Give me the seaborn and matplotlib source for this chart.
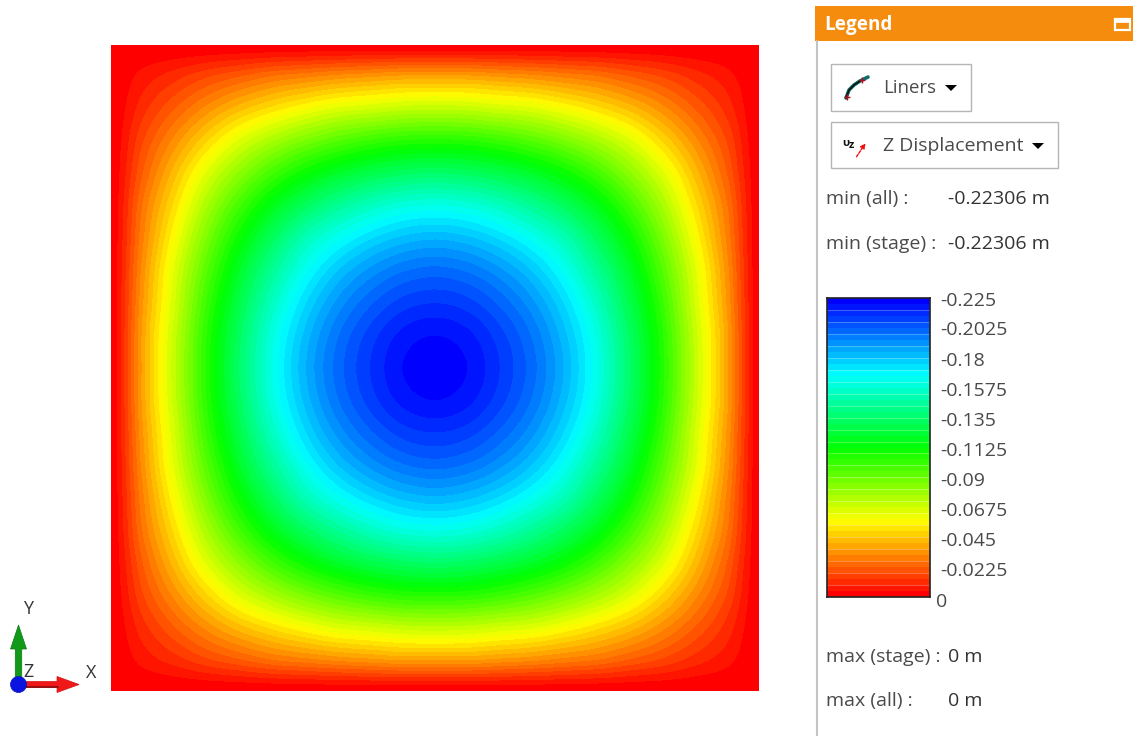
import numpy as np
import pandas as pd
import matplotlib
matplotlib.use("Agg")
import matplotlib.pyplot as plt
from matplotlib.colors import LinearSegmentedColormap, BoundaryNorm
from matplotlib.patches import Rectangle, FancyArrow, Circle
import seaborn as sns

# Quarter of the plate, centre -> edge (in millimetres)
z_quarter_mm = [
    [223, 220.5, 211.5, 200, 184, 163, 136, 106, 72, 38, 0],
    [220.5, 217.5, 209, 197.5, 181.5, 161, 134, 105, 71, 38, 0],
    [211.5, 209, 201.5, 190.5, 175, 154.5, 129, 101, 68, 36, 0],
    [200, 197.5, 190.5, 180, 165, 145, 122, 95, 65, 34, 0],
    [184, 181.5, 175, 165, 152, 133, 112, 87, 59, 31, 0],
    [163, 161, 154.5, 145, 133, 118, 99, 77, 52, 28, 0],
    [136, 134, 129, 122, 112, 99, 83, 65, 44, 23, 0],
    [106, 105, 101, 95, 87, 77, 65, 50, 34, 18, 0],
    [72, 71, 68, 65, 59, 52, 44, 34, 23, 12, 0],
    [38, 38, 36, 34, 31, 28, 23, 18, 12, 6.5, 0],
    [0, 0, 0, 0, 0, 0, 0, 0, 0, 0, 0],
]
legend_ticks = ["-0.225", "-0.2025", "-0.18", "-0.1575", "-0.135", "-0.1125",
                "-0.09", "-0.0675", "-0.045", "-0.0225", "0"]
legend_min = -0.225
legend_max = 0.0
n_bands = 50
info_rows = [("min (all) :", "-0.22306 m"), ("min (stage) :", "-0.22306 m"),
             ("max (stage) :", "0 m"), ("max (all) :", "0 m")]
rainbow = ["#0000ff", "#00ffff", "#00ff00", "#ffff00", "#ff0000"]

W, H = 1133, 736
sns.set_theme(style="white")
plt.rcParams["font.family"] = ["Open Sans", "DejaVu Sans"]
fig = plt.figure(figsize=(W / 100, H / 100), dpi=100, facecolor="white")


def axes_px(x0, y0, x1, y1, **kw):
    return fig.add_axes([x0 / W, 1 - y1 / H, (x1 - x0) / W, (y1 - y0) / H], **kw)


cmap = LinearSegmentedColormap.from_list("rainbow", rainbow, N=n_bands)
cmap.set_over("#ff0000")
cmap.set_under("#0000ff")
levels = np.linspace(legend_min, legend_max, n_bands + 1)
norm = BoundaryNorm(levels, cmap.N)

# Plate field: mirror the quarter table into the full plate
q = -np.array(z_quarter_mm, dtype=float) / 1000
top = np.hstack([q[:, :0:-1], q])
field = np.vstack([top[:0:-1], top])
ax = axes_px(111, 45, 759, 691)
ax.imshow(field, cmap=cmap, norm=norm, interpolation="catrom",
          interpolation_stage="data", extent=(-1.05, 1.05, -1.05, 1.05), aspect="auto")
ax.set_xlim(-1, 1)
ax.set_ylim(-1, 1)
ax.axis("off")

# Colour strip in the legend
strip = pd.DataFrame({"z": (levels[:-1] + levels[1:]) / 2})
cax = axes_px(827, 298, 930, 597)
sns.heatmap(strip, ax=cax, cmap=cmap, norm=norm, cbar=False, xticklabels=False,
            yticklabels=False, linewidths=0)
cax.set_xlabel("")
cax.set_ylabel("")
for k in range(2, n_bands, 2):
    cax.axhline(k, color="white", lw=0.8, alpha=0.25)
for s in cax.spines.values():
    s.set_visible(True)
    s.set_color("#222222")
    s.set_linewidth(1.2)

# Overlay in pixel coordinates for the panel furniture
ui = axes_px(0, 0, W, H)
ui.set_xlim(0, W)
ui.set_ylim(H, 0)
ui.axis("off")
ui.patch.set_alpha(0)
TXT = "#4a4a4a"
FS = 14

ui.add_patch(Rectangle((815, 6), 318, 35, fc="#f68c0d", ec="none"))
ui.plot([816.5, 816.5], [41, 736], color="#c4c4c4", lw=1.5)
ui.text(824, 25, "Legend", color="white", fontsize=13.6, fontweight="bold", va="center", ha="left")
ui.add_patch(Rectangle((1114.5, 19), 15, 11, fc="#f68c0d", ec="white", lw=1.6))
ui.add_patch(Rectangle((1114.5, 19), 15, 3, fc="white", ec="white", lw=0.5))

# Buttons
for x0, y0, x1, y1 in [(831, 64, 971, 111), (831, 122, 1058, 168)]:
    ui.add_patch(Rectangle((x0, y0), x1 - x0, y1 - y0, fc="white", ec="#b5b5b5", lw=1))
ui.text(883, 88, "Liners", color=TXT, fontsize=13.4, va="center", ha="left")
ui.text(883, 146, "Z Displacement", color=TXT, fontsize=14, va="center", ha="left")
ui.fill([945, 957, 951], [85, 85, 91], fc="black", ec="none")
ui.fill([1032, 1044, 1038], [143, 143, 149], fc="black", ec="none")
# Button icons
ui.plot([846, 849, 854, 860, 868], [98, 90, 85, 81, 77], color="#0e6f6a", lw=2.6, solid_capstyle="round")
ui.plot([846, 849, 854, 860], [98, 90, 85, 81], color="#111111", lw=1.2)
ui.plot([847, 862], [97, 80], ls="none", marker="+", ms=5, color="#b01020", mew=1)
ui.text(842, 143, "υ", color="#111111", fontsize=8, ha="left", va="center", fontweight="bold")
ui.text(849, 146, "z", color="#111111", fontsize=8, ha="left", va="center", fontweight="bold")
ui.annotate("", xy=(867, 141), xytext=(855, 159),
            arrowprops=dict(arrowstyle="-|>", color="#f01010", lw=1, ls=(0, (2, 1)), mutation_scale=7))

# Min and max rows
for (lab, val), y in zip(info_rows, [199, 244, 657, 701]):
    ui.text(826, y, lab, color=TXT, fontsize=FS, va="center", ha="left")
    ui.text(948, y, val, color="#333333", fontsize=FS, va="center", ha="left")

# Legend tick labels
tick_y = [301, 330, 361, 391, 421, 451, 481, 511, 541, 571]
for lab, y in zip(legend_ticks[:-1], tick_y):
    ui.text(940, y, lab, color=TXT, fontsize=FS, va="center", ha="left")
ui.text(936, 602, legend_ticks[-1], color=TXT, fontsize=FS, va="center", ha="left")

# Axis triad
ui.add_patch(FancyArrow(18.5, 684, 0, -59, width=6.5, head_width=16, head_length=24,
                        length_includes_head=True, fc="#12991a", ec="#0c7a12", lw=0.5))
ui.add_patch(FancyArrow(18, 684.5, 61, 0, width=6, head_width=16, head_length=22,
                        length_includes_head=True, fc="#f01818", ec="#d01010", lw=0.5))
ui.plot([22, 58], [686.5, 686.5], color="#8a0d0d", lw=1.2, zorder=3)
ui.add_patch(Circle((18.5, 684.5), 8, fc="#0a14e0", ec="#0a14b0", lw=0.5, zorder=5))
for lab, x, y in [("Y", 28, 609), ("Z", 29, 672), ("X", 91, 673)]:
    ui.text(x, y, lab, color="#333333", fontsize=13, va="center", ha="center", zorder=4)

fig.savefig("out.png", dpi=100, facecolor="white")
